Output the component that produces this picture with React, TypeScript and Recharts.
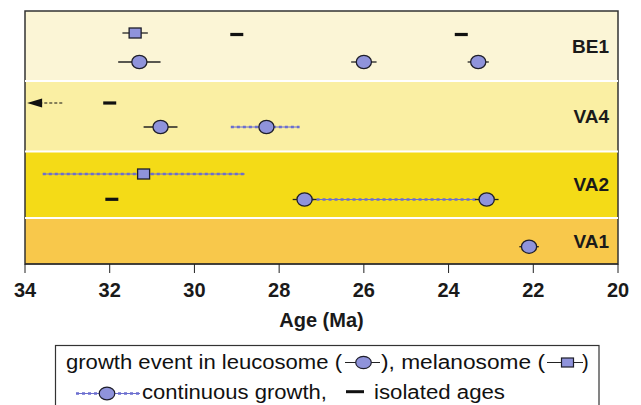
import {
  ErrorBar,
  ReferenceArea,
  ReferenceLine,
  Scatter,
  ScatterChart,
  XAxis,
  YAxis,
} from 'recharts'

// sample bands, bottom to top (row units on a hidden y axis)
const bandNames = ['VA1', 'VA2', 'VA4', 'BE1']
const bandLow = [0, 4.6, 11.25, 18.3]
const bandHigh = [4.6, 11.25, 18.3, 25.3]
const bandFills = ['#F8C84B', '#F4DB17', '#FAEFA3', '#FBF5D6']

// growth events in leucosome (circles)
const leucAge = [31.3, 26.0, 23.3, 30.8, 28.3, 27.4, 23.1, 22.1]
const leucRow = [20.2, 20.2, 20.2, 13.7, 13.7, 6.45, 6.45, 1.73]
const leucErr = [0.5, 0.3, 0.25, 0.4, 0, 0.28, 0.28, 0.23]

// growth events in melanosome (squares)
const melAge = [31.4, 31.2]
const melRow = [23.1, 9.0]
const melErr = [0.3, 0]

// isolated ages
const isoAge = [29.0, 23.7, 32.0, 31.95]
const isoRow = [22.95, 22.95, 16.1, 6.47]

// continuous growth ranges
const contFrom = [29.14, 33.58, 27.4]
const contTo = [27.52, 28.81, 23.1]
const contRow = [13.7, 9.0, 6.45]

// older-than arrow in VA4
const arrowFrom = 33.12
const arrowTip = 33.95
const arrowRow = 16.1

const xTicks = [34, 32, 30, 28, 26, 24, 22, 20]

const leucData = leucAge.map((x, i) => ({ x, y: leucRow[i], err: leucErr[i] }))
const melData = melAge.map((x, i) => ({ x, y: melRow[i], err: melErr[i] }))
const isoData = isoAge.map((x, i) => ({ x, y: isoRow[i] }))
const arrowData = [{ x: arrowTip, y: arrowRow }]

const FONT = '"Liberation Sans", Arial, Helvetica, sans-serif'
const MARK_FILL = '#8F93DB'
const MARK_STROKE = '#1e1e2a'
const CONT = '#6B6ECF'

const Circle = (p: any) => (
  <ellipse cx={p.cx} cy={p.cy} rx={7.6} ry={6.6} fill={MARK_FILL} stroke={MARK_STROKE} strokeWidth={1.3} />
)
const Square = (p: any) => (
  <rect x={p.cx - 6} y={p.cy - 5} width={12} height={10} fill={MARK_FILL} stroke={MARK_STROKE} strokeWidth={1.3} />
)
const Dash = (p: any) => <rect x={p.cx - 6.5} y={p.cy - 1.6} width={13} height={3.2} fill="#111" />
const ArrowHead = (p: any) => (
  <polygon points={`${p.cx},${p.cy} ${p.cx + 15},${p.cy - 4.5} ${p.cx + 15},${p.cy + 4.5}`} fill="#111" />
)
const Nothing = () => <g />

function LegendBox() {
  return (
    <svg width={641} height={405} style={{ position: 'absolute', left: 0, top: 0, pointerEvents: 'none' }}>
      <rect x={55.5} y={345.5} width={543.5} height={80} fill="#fff" stroke="#333" strokeWidth={1.2} />
      <g fontFamily={FONT} fontSize={20} fill="#111">
        <text x={66} y={369} textLength={276} lengthAdjust="spacingAndGlyphs">growth event in leucosome (</text>
        <line x1={345} x2={380} y1={362.5} y2={362.5} stroke="#222" strokeWidth={1.2} />
        <ellipse cx={363.5} cy={362.5} rx={7.8} ry={6.2} fill={MARK_FILL} stroke={MARK_STROKE} strokeWidth={1.2} />
        <text x={381} y={369} textLength={164} lengthAdjust="spacingAndGlyphs">), melanosome (</text>
        <line x1={547} x2={583} y1={362.5} y2={362.5} stroke="#222" strokeWidth={1.2} />
        <rect x={561.5} y={358} width={12} height={9} fill={MARK_FILL} stroke={MARK_STROKE} strokeWidth={1.2} />
        <text x={582} y={369}>)</text>

        <line x1={76} x2={140} y1={393.5} y2={393.5} stroke={CONT} strokeWidth={1} />
        <line x1={76} x2={140} y1={393.5} y2={393.5} stroke={CONT} strokeWidth={2.5} strokeDasharray="3 3" />
        <ellipse cx={107} cy={393.5} rx={7.8} ry={6.4} fill={MARK_FILL} stroke={MARK_STROKE} strokeWidth={1.2} />
        <text x={142} y={399} textLength={185} lengthAdjust="spacingAndGlyphs">continuous growth,</text>
        <rect x={346} y={390.2} width={18} height={3} fill="#111" />
        <text x={374} y={399} textLength={131} lengthAdjust="spacingAndGlyphs">isolated ages</text>
      </g>
    </svg>
  )
}

export default function App() {
  return (
    <div style={{ position: 'absolute', left: 0, top: 0, width: 641, height: 405, background: '#fff', fontFamily: FONT }}>
      <ScatterChart width={641} height={405} margin={{ top: 11, right: 23, left: 25, bottom: 75 }}>
        <XAxis
          type="number"
          dataKey="x"
          domain={[20, 34]}
          reversed
          ticks={xTicks}
          allowDataOverflow
          height={66}
          tickSize={9}
          tickMargin={10}
          stroke="#222"
          tick={{ fill: '#1a1a1a', fontSize: 20, fontWeight: 700, fontFamily: FONT }}
          label={{ value: 'Age (Ma)', position: 'insideBottom', offset: 3, fill: '#1a1a1a', fontSize: 20, fontWeight: 700, fontFamily: FONT }}
        />
        <YAxis type="number" dataKey="y" domain={[0, 25.3]} hide allowDataOverflow />

        {bandNames.map((name, i) => (
          <ReferenceArea
            key={name}
            x1={34}
            x2={20}
            y1={bandLow[i]}
            y2={bandHigh[i]}
            fill={bandFills[i]}
            fillOpacity={1}
            stroke="none"
            label={{ value: name, position: 'insideRight', offset: 9, fill: '#1a1a1a', fontSize: 19, fontWeight: 700, fontFamily: FONT }}
          />
        ))}
        {bandHigh.slice(0, 3).map((y) => (
          <ReferenceLine key={y} y={y} stroke="#fff" strokeWidth={2} />
        ))}
        <ReferenceArea x1={34} x2={20} y1={0} y2={25.3} fill="none" stroke="#333" strokeWidth={1.5} />

        {contFrom.map((x, i) => (
          <ReferenceLine
            key={`c${i}`}
            segment={[{ x, y: contRow[i] }, { x: contTo[i], y: contRow[i] }]}
            stroke={CONT}
            strokeWidth={1}
          />
        ))}
        {contFrom.map((x, i) => (
          <ReferenceLine
            key={`d${i}`}
            segment={[{ x, y: contRow[i] }, { x: contTo[i], y: contRow[i] }]}
            stroke={CONT}
            strokeWidth={2.5}
            strokeDasharray="3 3"
          />
        ))}
        <ReferenceLine
          segment={[{ x: arrowFrom, y: arrowRow }, { x: arrowTip - 0.3, y: arrowRow }]}
          stroke="#111"
          strokeWidth={1.2}
          strokeDasharray="3 2"
        />

        <Scatter data={leucData} shape={Nothing} isAnimationActive={false}>
          <ErrorBar dataKey="err" direction="x" width={0} stroke="#222" strokeWidth={1.3} isAnimationActive={false} />
        </Scatter>
        <Scatter data={melData} shape={Nothing} isAnimationActive={false}>
          <ErrorBar dataKey="err" direction="x" width={0} stroke="#222" strokeWidth={1.3} isAnimationActive={false} />
        </Scatter>
        <Scatter data={leucData} shape={Circle} isAnimationActive={false} />
        <Scatter data={melData} shape={Square} isAnimationActive={false} />
        <Scatter data={isoData} shape={Dash} isAnimationActive={false} />
        <Scatter data={arrowData} shape={ArrowHead} isAnimationActive={false} />
      </ScatterChart>
      <LegendBox />
    </div>
  )
}
